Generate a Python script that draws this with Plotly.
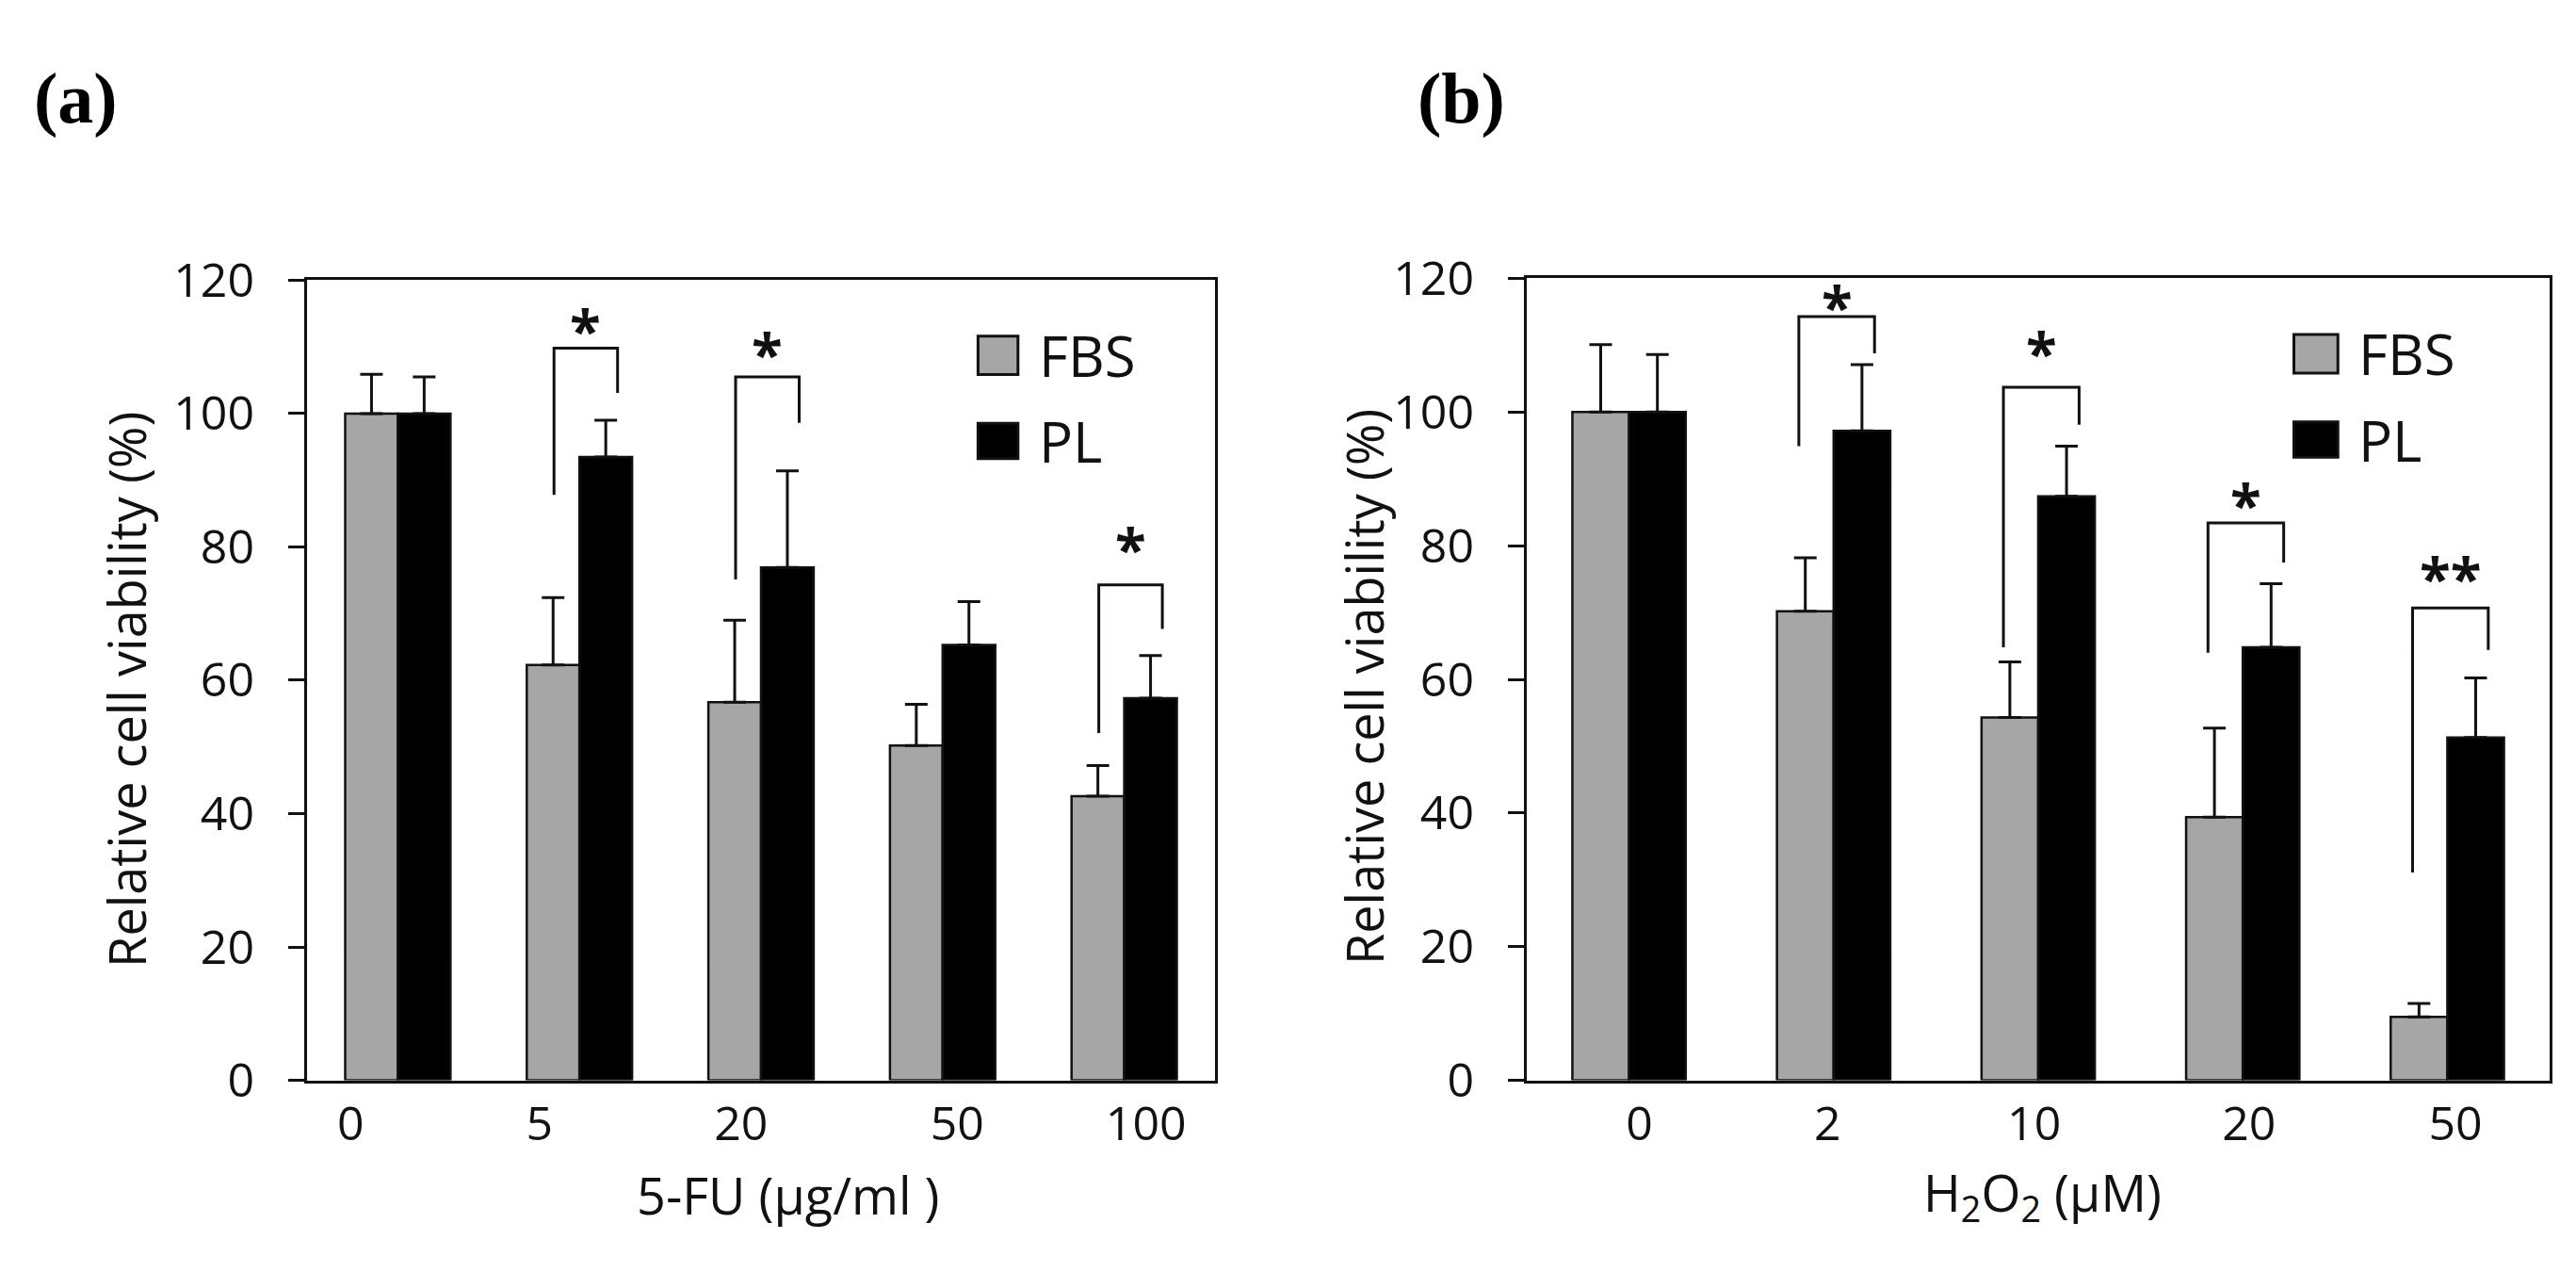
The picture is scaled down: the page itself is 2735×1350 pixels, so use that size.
import plotly.graph_objects as go

# ---- data ----
doses_a = ["0", "5", "20", "50", "100"]
fbs_a = [100.0, 62.3, 56.7, 50.2, 42.6]
fbs_a_sd = [5.9, 10.1, 12.3, 6.2, 4.6]
pl_a = [100.0, 93.5, 76.9, 65.3, 57.3]
pl_a_sd = [5.5, 5.5, 14.5, 6.5, 6.4]

doses_b = ["0", "2", "10", "20", "50"]
fbs_b = [100.0, 70.2, 54.3, 39.4, 9.5]
fbs_b_sd = [10.1, 8.0, 8.3, 13.3, 2.0]
pl_b = [100.0, 97.2, 87.4, 64.8, 51.3]
pl_b_sd = [8.6, 9.9, 7.5, 9.5, 8.9]

# significance brackets: group index, bracket top, left/right foot, star height, label
sig_a_idx = [1, 2, 4]
sig_a_top = [109.8, 105.5, 74.3]
sig_a_left = [87.8, 75.1, 52.1]
sig_a_right = [103.1, 98.6, 67.7]
sig_a_star = [114.0, 110.5, 81.2]
sig_a_label = ["*", "*", "*"]

sig_b_idx = [1, 2, 3, 4]
sig_b_top = [114.3, 103.7, 83.4, 70.7]
sig_b_left = [94.9, 64.8, 64.0, 31.1]
sig_b_right = [108.8, 98.1, 77.5, 64.4]
sig_b_star = [117.2, 110.3, 87.6, 76.7]
sig_b_label = ["*", "*", "*", "**"]

y_ticks = [0, 20, 40, 60, 80, 100, 120]

# ---- style ----
FONT = "Open Sans"
INK = "#111111"
GRAY = "#a6a6a6"
W, H = 2735, 1350

panels = [
    dict(x="x", y="y", doses=doses_a, fbs=fbs_a, fbs_sd=fbs_a_sd, pl=pl_a, pl_sd=pl_a_sd,
         idx=sig_a_idx, top=sig_a_top, left=sig_a_left, right=sig_a_right,
         star=sig_a_star, label=sig_a_label,
         bw=0.29, br_l=-0.14, br_r=0.21,
         tickpos=[-0.26, 0.78, 1.89, 3.08, 4.12],
         xdom=[318 / W, 1282 / W], ydom=[(H - 1162) / H, (H - 267) / H],
         leg_x=[0.739, 0.783, 0.804], tag="(a)", tag_x=26 / W,
         ytitle_x=126 / W, ytitle_y=(H - 725) / H,
         xtitle="5-FU (µg/ml )", xtitle_x=829 / W),
    dict(x="x2", y="y2", doses=doses_b, fbs=fbs_b, fbs_sd=fbs_b_sd, pl=pl_b, pl_sd=pl_b_sd,
         idx=sig_b_idx, top=sig_b_top, left=sig_b_left, right=sig_b_right,
         star=sig_b_star, label=sig_b_label,
         bw=0.277, br_l=-0.17, br_r=0.20,
         tickpos=[0.05, 0.97, 1.98, 3.03, 4.04],
         xdom=[1613 / W, 2699 / W], ydom=[(H - 1162) / H, (H - 265) / H],
         leg_x=[0.750, 0.793, 0.811], tag="(b)", tag_x=1495 / W,
         ytitle_x=1440 / W, ytitle_y=(H - 722) / H,
         xtitle="H<sub>2</sub>O<sub>2</sub> (µM)", xtitle_x=2160 / W),
]

fig = go.Figure()
shapes = []
annotations = []
layout_axes = {}

for n, p in enumerate(panels):
    idx = list(range(len(p["doses"])))
    for vals, sd, color, off in [(p["fbs"], p["fbs_sd"], GRAY, -p["bw"]),
                                 (p["pl"], p["pl_sd"], "black", 0.0)]:
        fig.add_trace(go.Bar(
            x=idx, y=vals, width=p["bw"], offset=off,
            xaxis=p["x"], yaxis=p["y"],
            marker=dict(color=color, line=dict(color=INK, width=2.5)),
            error_y=dict(type="data", symmetric=False, array=sd,
                         arrayminus=[0] * len(sd), color=INK, thickness=3, width=12),
            showlegend=False,
        ))

    # significance brackets
    for i, g in enumerate(p["idx"]):
        xl, xr = g + p["br_l"], g + p["br_r"]
        shapes.append(dict(
            type="path", xref=p["x"], yref=p["y"],
            path=f"M {xl},{p['left'][i]} L {xl},{p['top'][i]} L {xr},{p['top'][i]} L {xr},{p['right'][i]}",
            line=dict(color=INK, width=3),
        ))
        annotations.append(dict(
            x=(xl + xr) / 2, y=p["star"][i], xref=p["x"], yref=p["y"],
            text="<b>" + p["label"][i] + "</b>", showarrow=False,
            xanchor="center", yanchor="middle",
            font=dict(family=FONT, size=60, color=INK), yshift=-10,
        ))

    # legend drawn by hand (square swatches like the original)
    dom_x = p["x"] + " domain"
    dom_y = p["y"] + " domain"
    lx0, lx1, tx = p["leg_x"]
    for (y0, y1), fill, name in [((0.882, 0.930), GRAY, "FBS"), ((0.777, 0.821), "black", "PL")]:
        shapes.append(dict(type="rect", xref=dom_x, yref=dom_y, x0=lx0, x1=lx1, y0=y0, y1=y1,
                           fillcolor=fill, line=dict(color=INK, width=3)))
        annotations.append(dict(x=tx, y=(y0 + y1) / 2, xref=dom_x, yref=dom_y, text=name,
                                showarrow=False, xanchor="left", yanchor="middle",
                                font=dict(family=FONT, size=60, color=INK)))

    # panel tag and axis titles
    annotations.append(dict(x=p["tag_x"], y=(H - 64) / H, xref="paper", yref="paper",
                            text=f"<b>{p['tag']}</b>", showarrow=False, xanchor="left",
                            yanchor="middle",
                            font=dict(family="Liberation Serif", size=76, color="black")))
    annotations.append(dict(x=p["ytitle_x"], y=p["ytitle_y"], xref="paper", yref="paper",
                            text="Relative cell viability (%)", textangle=-90, showarrow=False,
                            xanchor="center", yanchor="middle",
                            font=dict(family=FONT, size=54, color=INK)))
    annotations.append(dict(x=p["xtitle_x"], y=(H - 1290) / H, xref="paper", yref="paper",
                            text=p["xtitle"], showarrow=False, xanchor="center", yanchor="middle",
                            font=dict(family=FONT, size=54, color=INK)))

    sfx = "" if n == 0 else "2"
    layout_axes["xaxis" + sfx] = dict(
        domain=p["xdom"], anchor=p["y"], range=[-0.5, 4.5],
        tickmode="array", tickvals=p["tickpos"], ticktext=p["doses"],
        ticks="", showline=True, linecolor=INK, linewidth=3, mirror=True,
        showgrid=False, zeroline=False, ticklabelstandoff=0,
        tickfont=dict(family=FONT, size=50, color=INK),
    )
    layout_axes["yaxis" + sfx] = dict(
        domain=p["ydom"], anchor=p["x"], range=[0, 120],
        tickmode="array", tickvals=y_ticks,
        ticks="outside", ticklen=17, tickwidth=3, tickcolor=INK,
        showline=True, linecolor=INK, linewidth=3, mirror=True,
        showgrid=False, zeroline=False, ticklabelstandoff=26,
        tickfont=dict(family=FONT, size=50, color=INK),
    )

fig.update_layout(
    width=W, height=H,
    margin=dict(l=0, r=0, t=0, b=0),
    paper_bgcolor="white", plot_bgcolor="white",
    barmode="overlay",
    shapes=shapes, annotations=annotations,
    **layout_axes,
)

fig.write_html("out.html")
